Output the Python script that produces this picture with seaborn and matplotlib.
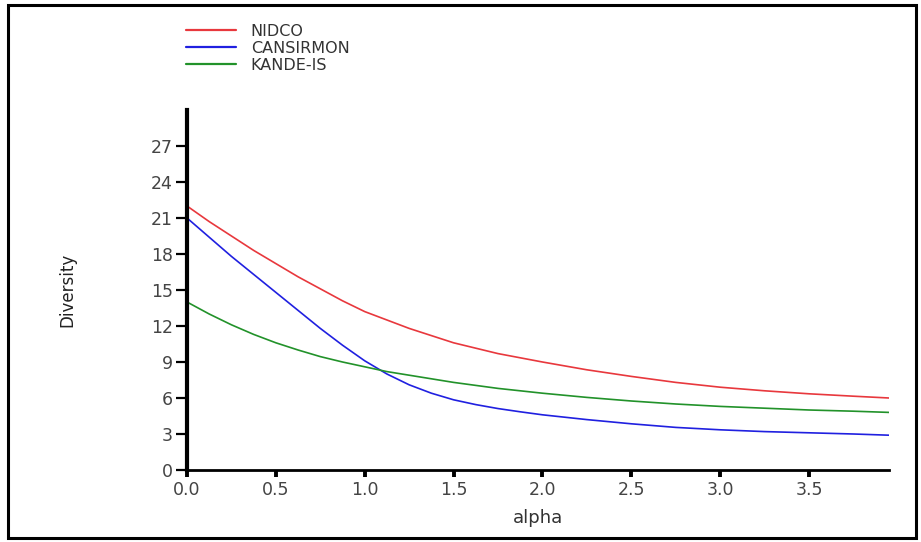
import numpy as np
import pandas as pd
import matplotlib
matplotlib.use("Agg")
import matplotlib.pyplot as plt
from matplotlib.patches import Rectangle
import seaborn as sns

alpha = [0.0, 0.125, 0.25, 0.375, 0.5, 0.625, 0.75, 0.875, 1.0, 1.125, 1.25, 1.375, 1.5,
         1.625, 1.75, 1.875, 2.0, 2.25, 2.5, 2.75, 3.0, 3.25, 3.5, 3.75, 3.95]
nidco = [22.0, 20.7, 19.5, 18.3, 17.2, 16.1, 15.1, 14.1, 13.2, 12.5, 11.8, 11.2, 10.6,
         10.15, 9.7, 9.35, 9.0, 8.35, 7.8, 7.3, 6.9, 6.6, 6.35, 6.15, 6.0]
cansirmon = [21.0, 19.4, 17.8, 16.3, 14.8, 13.3, 11.8, 10.4, 9.1, 8.0, 7.1, 6.4, 5.85,
             5.45, 5.12, 4.85, 4.6, 4.2, 3.85, 3.55, 3.35, 3.2, 3.1, 3.0, 2.9]
kande_is = [14.0, 13.0, 12.1, 11.3, 10.6, 10.0, 9.45, 9.0, 8.6, 8.2, 7.9, 7.6, 7.3,
            7.05, 6.8, 6.6, 6.4, 6.05, 5.75, 5.5, 5.3, 5.15, 5.0, 4.9, 4.8]
series_names = ["NIDCO", "CANSIRMON", "KANDE-IS"]
colors = ["#e8383d", "#2020e0", "#22922a"]
x_ticks = [0.0, 0.5, 1.0, 1.5, 2.0, 2.5, 3.0, 3.5]
y_ticks = [0, 3, 6, 9, 12, 15, 18, 21, 24, 27]

df = pd.concat([
    pd.DataFrame({"alpha": alpha, "Diversity": v, "series": n})
    for n, v in zip(series_names, [nidco, cansirmon, kande_is])
], ignore_index=True)

sns.set_theme(style="ticks")
plt.rcParams["font.family"] = ["DejaVu Sans"]

W, H = 921, 542
fig = plt.figure(figsize=(W / 100, H / 100), dpi=100)
ax = fig.add_axes([187 / W, 1 - 470 / H, (889 - 187) / W, (470 - 110) / H])

sns.lineplot(data=df, x="alpha", y="Diversity", hue="series", hue_order=series_names,
             palette=colors, linewidth=1.2, ax=ax, legend=False)

ax.set_xlim(0, 3.95)
ax.set_ylim(0, 30)
ax.set_xticks(x_ticks)
ax.set_xticklabels([f"{t:.1f}" for t in x_ticks])
ax.set_yticks(y_ticks)
ax.set_yticklabels([str(t) for t in y_ticks])
for s in ["top", "right"]:
    ax.spines[s].set_visible(False)
ax.spines["left"].set_linewidth(3.0)
ax.spines["bottom"].set_linewidth(2.0)
ax.spines["left"].set_color("black")
ax.spines["bottom"].set_color("black")
ax.tick_params(axis="y", direction="out", length=8, width=1.6, color="black",
               labelsize=12.5, labelcolor="#444444", pad=2)
ax.tick_params(axis="x", direction="out", length=5, width=2.8, color="black",
               labelsize=12.5, labelcolor="#444444", pad=3)
ax.set_xlabel("alpha", fontsize=13, color="#333333")
ax.xaxis.set_label_coords(0.5, -(518 - 470) / (470 - 110), transform=ax.transAxes)
ax.xaxis.label.set_va("center")
ax.set_ylabel("Diversity", fontsize=12, color="#222222")
ax.yaxis.set_label_coords(-(187 - 67) / (889 - 187), 0.5, transform=ax.transAxes)
ax.yaxis.label.set_va("center")
ax.grid(False)

handles = [plt.Line2D([], [], color=c, lw=1.6) for c in colors]
fig.legend(handles, series_names, loc="upper left", bbox_to_anchor=(186 / W, 1 - 24 / H),
           frameon=False, prop={"size": 11.5}, handlelength=3.1, handletextpad=0.95,
           labelspacing=0.12, borderpad=0, borderaxespad=0, labelcolor="#333333")

fig.patches.append(Rectangle((8 / W, 4 / H), (916 - 8) / W, (537 - 4) / H,
                             transform=fig.transFigure, fill=False, edgecolor="black",
                             linewidth=2.2))

fig.savefig("out.png", dpi=100)
